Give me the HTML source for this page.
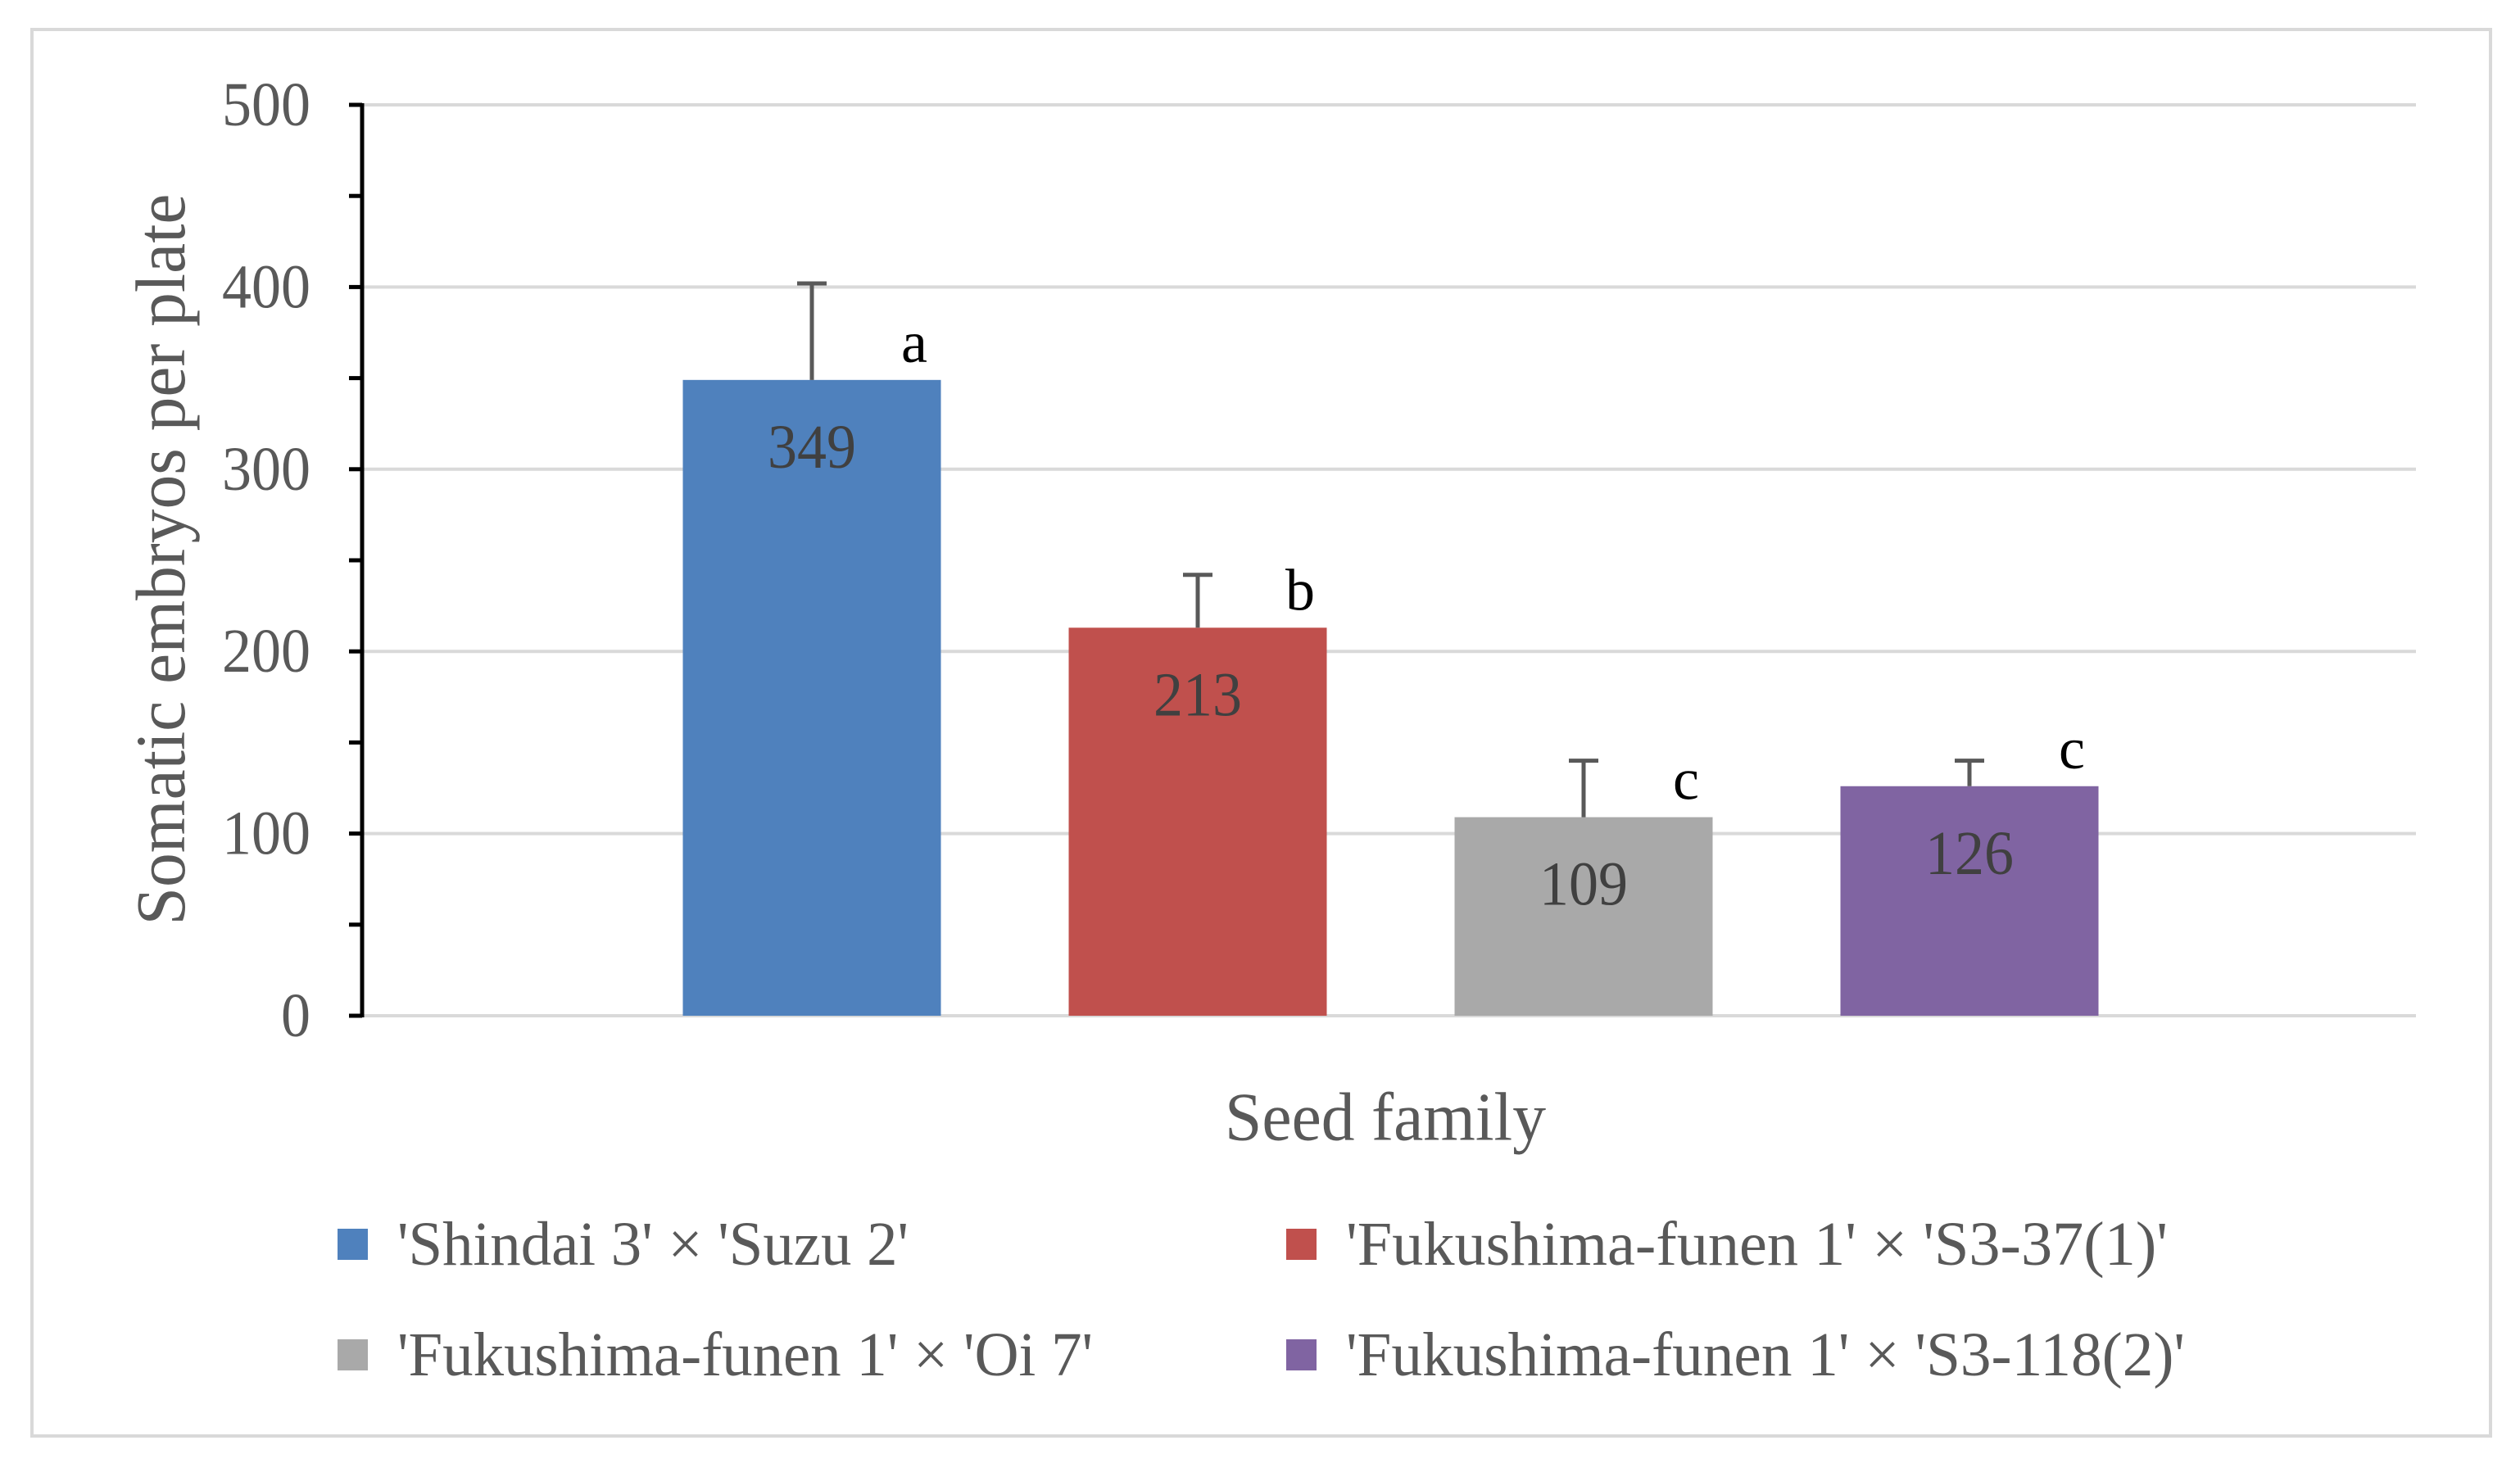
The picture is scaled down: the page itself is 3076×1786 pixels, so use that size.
<!DOCTYPE html>
<html><head><meta charset="utf-8"><style>
html,body{margin:0;padding:0;background:#fff}
svg{display:block}
text{font-family:"Liberation Serif",serif}
</style></head><body>
<svg id="chart" width="3076" height="1786" viewBox="0 0 3076 1786">
<rect x="39" y="36" width="3001" height="1717" fill="#fff" stroke="#d9d9d9" stroke-width="4"/>
<g id="grid"></g>
<g id="bars"></g>
<g id="axis"></g>
<text x="196" y="683" font-size="86" fill="#595959" text-anchor="middle" dominant-baseline="central" textLength="893" lengthAdjust="spacingAndGlyphs" transform="rotate(-90 196 683)">Somatic embryos per plate</text>
<text x="1691" y="1364" font-size="84" fill="#595959" text-anchor="middle" dominant-baseline="central" textLength="392" lengthAdjust="spacingAndGlyphs">Seed family</text>
<g id="legend"></g>
</svg>
<script>
const seriesNames = ["'Shindai 3' × 'Suzu 2'", "'Fukushima-funen 1' ×  'S3-37(1)'", "'Fukushima-funen 1' × 'Oi 7'", "'Fukushima-funen 1' × 'S3-118(2)'"];
const values = [349, 213, 109, 126];
const errorTops = [402, 242, 140, 140];
const letters = ["a", "b", "c", "c"];
const yTicks = [0, 100, 200, 300, 400, 500];
const colors = ["#4f81bd", "#c0504d", "#a9a9a9", "#8064a2"];

const NS = "http://www.w3.org/2000/svg";
const X0 = 442, X1 = 2949, Y0 = 1240, Y500 = 128;
const y = v => Y0 - (v / 500) * (Y0 - Y500);
const barW = 315, step = 471, firstC = 991;
const xc = i => firstC + i * step;
function mk(tag, attrs, parent, txt) {
  const e = document.createElementNS(NS, tag);
  for (const k in attrs) e.setAttribute(k, attrs[k]);
  if (txt !== undefined) e.textContent = txt;
  parent.appendChild(e);
  return e;
}
const grid = document.getElementById('grid');
const axis = document.getElementById('axis');
const bars = document.getElementById('bars');
const legend = document.getElementById('legend');

yTicks.forEach(t => {
  const g = mk('line', {x1: X0, x2: X1, y1: y(t), y2: y(t), stroke: '#d9d9d9', 'stroke-width': 4}, grid);
  
  
  const s = String(t);
  const l = mk('text', {x: 379, y: y(t), 'font-size': 76, fill: '#595959', 'text-anchor': 'end', 'dominant-baseline': 'central', textLength: s.length * 36, lengthAdjust: 'spacingAndGlyphs'}, axis, s);
  
  
});
for (let v = 0; v <= 500; v += 50) {
  const tk = mk('line', {x1: 426, x2: X0, y1: y(v), y2: y(v), stroke: '#000', 'stroke-width': 5}, axis);
  
  
}
const al = mk('line', {x1: X0, x2: X0, y1: y(500) - 2, y2: Y0 + 2, stroke: '#000', 'stroke-width': 5}, axis);



values.forEach((v, i) => {
  const c = xc(i);
  const r = mk('rect', {x: c - barW / 2, y: y(v), width: barW, height: Y0 - y(v), fill: colors[i]}, bars);
  
  
  const e = mk('line', {x1: c, x2: c, y1: y(v), y2: y(errorTops[i]), stroke: '#595959', 'stroke-width': 5}, bars);
  
  
  const cap = mk('line', {x1: c - 18, x2: c + 18, y1: y(errorTops[i]), y2: y(errorTops[i]), stroke: '#595959', 'stroke-width': 5}, bars);
  
  
  const s = String(v);
  const vl = mk('text', {x: c, y: y(v) + 82, 'font-size': 76, fill: '#404040', 'text-anchor': 'middle', 'dominant-baseline': 'central', textLength: s.length * 36, lengthAdjust: 'spacingAndGlyphs'}, bars, s);
  
  
  const lt = mk('text', {x: c + 125, y: y(v) - 22, 'font-size': 72, fill: '#000', 'text-anchor': 'middle'}, bars, letters[i]);
  
  
});

const legPos = [[412, 1519, 624], [1570, 1519, 1003], [412, 1654, 849], [1570, 1654, 1024]];
seriesNames.forEach((n, i) => {
  const [lx, ly, tw] = legPos[i];
  const sq = mk('rect', {x: lx, y: ly - 19, width: 37, height: 38, fill: colors[i]}, legend);
  
  
  const t = mk('text', {x: lx + 73, y: ly, 'font-size': 76, fill: '#595959', 'dominant-baseline': 'central', textLength: tw, lengthAdjust: 'spacingAndGlyphs'}, legend, n);
  
  
});
</script>
</body></html>
